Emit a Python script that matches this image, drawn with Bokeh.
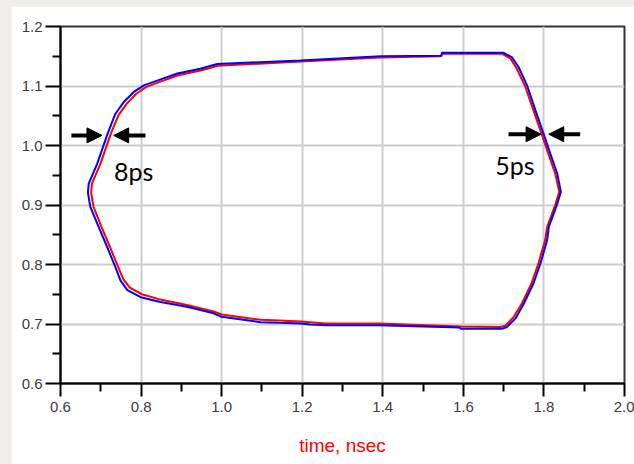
from bokeh.plotting import figure
from bokeh.layouts import column
from bokeh.models import Range1d, FixedTicker, Arrow, NormalHead, Label, CustomJSTickFormatter
from bokeh.embed import file_html
from bokeh.resources import INLINE

# ---- data ----
blue_x = [0.668, 0.670, 0.691, 0.717, 0.736, 0.757, 0.782, 0.807, 0.840, 0.890, 0.947, 0.989,
          1.196, 1.394, 1.545, 1.547, 1.699, 1.721, 1.737, 1.758, 1.779, 1.799, 1.816, 1.833,
          1.842, 1.833, 1.812, 1.808, 1.791, 1.774, 1.750, 1.729, 1.708, 1.696, 1.593, 1.591,
          1.39, 1.258, 1.22, 1.196, 1.142, 1.097, 1.0, 0.980, 0.914, 0.848, 0.799, 0.766,
          0.749, 0.736, 0.716, 0.695, 0.674, 0.668]
blue_y = [0.921, 0.936, 0.969, 1.020, 1.053, 1.073, 1.090, 1.101, 1.109, 1.121, 1.129, 1.137,
          1.143, 1.150, 1.151, 1.156, 1.156, 1.148, 1.132, 1.101, 1.059, 1.020, 0.986, 0.953,
          0.922, 0.902, 0.863, 0.841, 0.801, 0.768, 0.734, 0.709, 0.695, 0.692, 0.692, 0.694,
          0.698, 0.698, 0.699, 0.701, 0.702, 0.703, 0.712, 0.718, 0.729, 0.737, 0.745, 0.757,
          0.773, 0.796, 0.829, 0.863, 0.897, 0.921]

red_x = [0.676, 0.678, 0.699, 0.725, 0.744, 0.764, 0.788, 0.812, 0.843, 0.892, 0.948, 0.990,
         1.196, 1.394, 1.545, 1.548, 1.697, 1.717, 1.732, 1.753, 1.774, 1.794, 1.811, 1.828,
         1.838, 1.829, 1.808, 1.803, 1.786, 1.769, 1.745, 1.724, 1.704, 1.692, 1.593,
         1.39, 1.258, 1.196, 1.142, 1.097, 1.0, 0.980, 0.914, 0.848, 0.802, 0.772,
         0.756, 0.743, 0.723, 0.702, 0.682, 0.676]
red_y = [0.921, 0.936, 0.969, 1.020, 1.051, 1.070, 1.087, 1.098, 1.106, 1.118, 1.126, 1.134,
         1.141, 1.148, 1.150, 1.154, 1.154, 1.146, 1.130, 1.100, 1.059, 1.020, 0.986, 0.953,
         0.922, 0.902, 0.863, 0.841, 0.801, 0.768, 0.734, 0.711, 0.697, 0.695, 0.696,
         0.701, 0.701, 0.704, 0.706, 0.707, 0.716, 0.721, 0.732, 0.741, 0.750, 0.761,
         0.775, 0.796, 0.829, 0.863, 0.897, 0.921]

x_ticks = [0.6, 0.8, 1.0, 1.2, 1.4, 1.6, 1.8, 2.0]
x_minor = [0.7, 0.9, 1.1, 1.3, 1.5, 1.7, 1.9]
y_ticks = [0.6, 0.7, 0.8, 0.9, 1.0, 1.1, 1.2]
y_minor = [0.65, 0.75, 0.85, 0.95, 1.05, 1.15]
x_label = "time, nsec"

# annotations: (x_start, x_end, y)
arrows = [(0.627, 0.703, 1.017), (0.811, 0.732, 1.017),
          (1.712, 1.793, 1.019), (1.890, 1.812, 1.019)]
notes = [("8ps", 0.733, 0.957), ("5ps", 1.679, 0.967)]

p = figure(width=623, height=458, x_range=Range1d(0.6, 2.0), y_range=Range1d(0.6, 1.2),
           output_backend="svg", toolbar_location=None,
           min_border_left=49, min_border_top=20, min_border_right=10, min_border_bottom=81)
p.margin = (6, 0, 0, 11)
p.background_fill_color = "white"
p.border_fill_color = "white"
p.outline_line_color = "#333333"
p.outline_line_width = 2

fmt = CustomJSTickFormatter(code="return tick.toFixed(1);")
for ax, ticks, minor, tout in ((p.xaxis[0], x_ticks, x_minor, 13), (p.yaxis[0], y_ticks, y_minor, 15)):
    ax.ticker = FixedTicker(ticks=ticks, minor_ticks=minor)
    ax.formatter = fmt
    ax.axis_line_color = "black"
    ax.axis_line_width = 2
    ax.major_tick_line_color = "black"
    ax.major_tick_line_width = 2
    ax.minor_tick_line_color = "black"
    ax.minor_tick_line_width = 2
    ax.major_tick_in = 0
    ax.major_tick_out = tout
    ax.minor_tick_in = 0
    ax.minor_tick_out = 8
    ax.major_label_text_font = "Liberation Sans"
    ax.major_label_text_font_size = "15px"
    ax.major_label_text_color = "#3c3c3c"

p.xaxis.major_label_standoff = 5
p.yaxis.major_label_standoff = 3
p.xaxis.axis_label = x_label
p.xaxis.axis_label_text_color = "red"
p.xaxis.axis_label_text_font = "Liberation Sans"
p.xaxis.axis_label_text_font_size = "19px"
p.xaxis.axis_label_text_font_style = "normal"
p.xaxis.axis_label_standoff = 20

p.xgrid.ticker = FixedTicker(ticks=x_ticks)
p.ygrid.ticker = FixedTicker(ticks=y_ticks)
p.grid.grid_line_color = "#cccccc"
p.grid.grid_line_width = 2

p.line(red_x, red_y, line_color="#ff0000", line_width=2)
p.line(blue_x, blue_y, line_color="#0000ff", line_width=2)

for xs, xe, yy in arrows:
    p.add_layout(Arrow(x_start=xs, y_start=yy, x_end=xe, y_end=yy, line_color="black",
                       line_width=4,
                       end=NormalHead(size=15, fill_color="black", line_color="black", line_width=1)))

for txt, tx, ty in notes:
    p.add_layout(Label(x=tx, y=ty, text=txt, text_font="Lato", text_font_size="25px",
                       text_color="black", text_baseline="alphabetic", text_align="left"))

layout = column(p, styles={"background-color": "#efeeea"})
open("out.html", "w").write(file_html(layout, INLINE))
